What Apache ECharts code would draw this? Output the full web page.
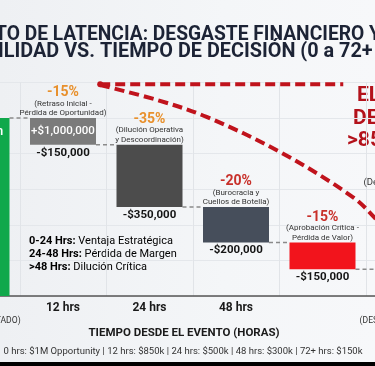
<!DOCTYPE html>
<html><head><meta charset="utf-8">
<script src="https://cdn.jsdelivr.net/npm/echarts@6/dist/echarts.min.js"></script>
<style>
html,body{margin:0;padding:0;width:375px;height:366px;overflow:hidden;background:#000;}
#wrap{position:absolute;left:0;top:0;width:375px;height:362px;overflow:hidden;background:linear-gradient(90deg,#eef0f3 0%,#f4f6f8 60%,#f7f8fa 100%);}
#chart{position:absolute;left:-100px;top:0;width:580px;height:362px;}
</style></head>
<body><div id="wrap"><div id="chart"></div></div>
<script>
// ---- data ----
const categories = ['0 hrs', '12 hrs', '24 hrs', '48 hrs', '', '72+ hrs'];
const categoryNotes = ['(EVENTO DETECTADO)', '', '', '', '', '(DESASTRE FINANCIERO)'];
const startValue = 1000000;
const stepLosses = [150000, 350000, 200000, 150000];
const finalValue = 150000;
const pctLabels = ['', '-15%', '-35%', '-20%', '-15%', '-85%'];
const pctColors = ['#111', '#e8902c', '#e8902c', '#c8302a', '#c8302a', '#b3121b'];
const causeLabels = ['', '(Retraso Inicial -\nPérdida de Oportunidad)', '(Dilución Operativa\ny Descoordinación)', '(Burocracia y\nCuellos de Botella)', '(Aprobación Crítica -\nPérdida de Valor)', '(Destrucción de Valor\nIrreversible)'];
const amountLabels = ['', '-$150,000', '-$350,000', '-$200,000', '-$150,000', ''];
const insideLabels = ['Inversión', '+$1,000,000', '', '', '', ''];
const topNote = 'Máximo';
const barColors = ['#10a84b', '#7b7b7b', '#4c4c4c', '#464e5b', '#f2141c', '#8e0d13'];
const decayX = [1.43, 2.09, 2.66, 3.51, 4.35, 4.64, 5.0];
const decayY = [1185000, 1101000, 1006000, 809000, 556000, 421000, 230000];
const thresholdX = [1.43, 4.24];
const thresholdY = [1190000, 1190000];
const phaseLines = [['0-24 Hrs:', ' Ventaja Estratégica'], ['24-48 Hrs:', ' Pérdida de Margen'], ['>48 Hrs:', ' Dilución Crítica']];
const calloutLines = ['EL COSTO', 'DE ESPERAR', '>85% PERDIDO'];
const titleLine1 = ['IMPAC', 'TO DE LATENCIA: DESGASTE FINANCIERO Y'];
const titleLine2 = ['RENTAB', 'ILIDAD VS. TIEMPO DE DECISIÓN (0 a 72+ HRS)'];
const axisTitle = 'TIEMPO DESDE EL EVENTO (HORAS)';
const footer = '0 hrs: $1M Opportunity | 12 hrs: $850k | 24 hrs: $500k | 48 hrs: $300k | 72+ hrs: $150k';

// ---- derived waterfall ----
const levels = [startValue];
stepLosses.forEach(l => levels.push(levels[levels.length - 1] - l));
const barValues = [startValue].concat(stepLosses).concat([finalValue]);
const baseValues = [0].concat(levels.slice(1)).concat([0]);
const levelAfter = levels.concat([finalValue]);

const OFF = 100; // page x -> chart x
const FONT = 'Roboto, "Noto Sans", sans-serif';
const TFAM = 'Roboto';

const cv = document.createElement('canvas').getContext('2d');
function tw(t, fs) { cv.font = 'bold ' + fs + 'px ' + TFAM; return cv.measureText(t).width; }
const tfs1 = 1.034 * 20 * 362 / tw('TO DE LATENCIA: DESGASTE FINANCIERO ', 20);
const tfs2 = 1.038 * 20 * 366 / tw('ILIDAD VS. TIEMPO DE DECISIÓN (0 a 72+ ', 20);

const chart = echarts.init(document.getElementById('chart'), null, {renderer: 'canvas'});
const BW = 66;

function titleText(text, fs, x, y, align) {
  return {type: 'text', x: x + OFF, y: y, scaleY: 15 / (0.711 * fs),
    style: {text: text, fontFamily: TFAM, fontWeight: 'bold', fontSize: fs, fill: '#1c2335', textAlign: align, textVerticalAlign: 'middle'}};
}

const option = {
  animation: false,
  grid: {left: 33.25, right: 27.75, top: 82.4, bottom: 66},
  xAxis: [{
    type: 'category', data: categories,
    axisLine: {lineStyle: {color: '#555', width: 1.5}},
    axisTick: {show: false},
    splitLine: {show: true, interval: 0, lineStyle: {color: '#e1e4e8', width: 1}},
    axisLabel: {
      interval: 0, margin: 4,
      formatter: (v, i) => categoryNotes[i] ? '{b|' + v + '}\n{s|' + categoryNotes[i] + '}' : '{b|' + v + '}',
      rich: {
        b: {fontFamily: FONT, fontWeight: 'bold', fontSize: 12, color: '#1a1a1a', lineHeight: 15},
        s: {fontFamily: FONT, fontSize: 8.6, color: '#333', lineHeight: 12}
      }
    }
  }, {
    type: 'value', min: -0.5, max: 5.5, show: false
  }],
  yAxis: {
    type: 'value', min: 0, max: 1200000, interval: 200000,
    axisLabel: {show: false}, axisLine: {show: false}, axisTick: {show: false},
    splitLine: {lineStyle: {color: '#e4e7eb', width: 1}}
  },
  series: [{
    name: 'base', type: 'bar', stack: 'w', barWidth: BW,
    itemStyle: {color: 'rgba(0,0,0,0)'},
    data: baseValues,
    label: {
      show: true, position: 'insideTop', distance: 2,
      formatter: p => amountLabels[p.dataIndex],
      fontFamily: FONT, fontWeight: 'bold', fontSize: 11.5, color: '#151515'
    }
  }, {
    name: 'change', type: 'bar', stack: 'w', barWidth: BW,
    data: barValues.map((v, i) => {
      const o = {value: v, itemStyle: {color: barColors[i]}};
      if (i === 0) o.label = {fontSize: 13};
      return o;
    }),
    label: {
      show: true, position: 'insideTop', distance: 7,
      formatter: p => insideLabels[p.dataIndex],
      fontFamily: FONT, fontWeight: 500, fontSize: 11.5, color: '#fff'
    }
  }, {
    name: 'notes', type: 'bar', stack: 'w', barWidth: BW,
    itemStyle: {color: 'rgba(0,0,0,0)'},
    data: barValues.map((v, i) => {
      const o = {value: 0};
      if (i === 0) o.label = {distance: 24};
      if (i === 5) o.label = {distance: 70};
      return o;
    }),
    label: {
      show: true, position: 'top', distance: 0,
      formatter: p => {
        const i = p.dataIndex;
        if (i === 0) return '{n|' + topNote + '}';
        const cls = i === 5 ? 'e' : 'd';
        const d = causeLabels[i].split('\n').map(s => '{' + cls + '|' + s + '}').join('\n');
        return '{p' + i + '|' + pctLabels[i] + '}\n' + d;
      },
      rich: Object.assign({
        n: {fontFamily: FONT, fontWeight: 'bold', fontSize: 13, color: '#111'},
        d: {fontFamily: FONT, fontSize: 8, color: '#333', lineHeight: 9.5},
        e: {fontFamily: FONT, fontSize: 9.5, color: '#333', lineHeight: 11}
      }, Object.fromEntries(pctColors.map((c, i) => ['p' + i, {fontFamily: FONT, fontWeight: 'bold', fontSize: 14, color: c, lineHeight: 13}])))
    }
  }, {
    name: 'connectors', type: 'custom',
    data: levelAfter.slice(0, 5).map((v, i) => [i, v]),
    renderItem: (params, api) => {
      const i = api.value(0), v = api.value(1);
      const a = api.coord([i, v]), b = api.coord([i + 1, v]);
      return {type: 'line', shape: {x1: a[0] + BW / 2, y1: a[1], x2: b[0] - BW / 2, y2: b[1]},
        style: {stroke: '#8a8a8a', lineWidth: 1.5, lineDash: [4, 3]}};
    },
    z: 1
  }, {
    name: 'decay', type: 'line', xAxisIndex: 1, smooth: 0.35,
    symbol: 'none',
    data: decayX.map((x, i) => [x, decayY[i]]),
    lineStyle: {color: '#c0131c', width: 4, type: [10, 5]}, z: 5
  }, {
    name: 'threshold', type: 'line', xAxisIndex: 1,
    showSymbol: true, symbol: 'none',
    data: thresholdX.map((x, i) => i === 0 ? {value: [x, thresholdY[i]], symbol: 'circle', symbolSize: 6, itemStyle: {color: '#c0131c'}} : [x, thresholdY[i]]),
    lineStyle: {color: '#c0131c', width: 4, type: [10, 5]}, z: 5
  }],
  graphic: [
    titleText(titleLine1[0], tfs1, -5, 35, 'right'),
    titleText(titleLine1[1], tfs1, -5, 35, 'left'),
    titleText(titleLine2[0], tfs2, -2, 52, 'right'),
    titleText(titleLine2[1], tfs2, -2, 52, 'left'),
    {type: 'text', x: 357 + OFF, y: 96, style: {text: calloutLines[0], fontFamily: TFAM, fontWeight: 'bold', fontSize: 21, fill: '#b3121b', textVerticalAlign: 'middle'}},
    {type: 'text', x: 353 + OFF, y: 119, style: {text: calloutLines[1], fontFamily: TFAM, fontWeight: 'bold', fontSize: 21, fill: '#b3121b', textVerticalAlign: 'middle'}},
    {type: 'text', x: 347 + OFF, y: 141, style: {text: calloutLines[2], fontFamily: TFAM, fontWeight: 'bold', fontSize: 21, fill: '#b3121b', textVerticalAlign: 'middle'}},
    {type: 'text', x: 29 + OFF, y: 235, style: {
      text: phaseLines.map(l => '{b|' + l[0] + '}{r|' + l[1] + '}').join('\n'),
      rich: {b: {fontFamily: FONT, fontWeight: 'bold', fontSize: 11, color: '#1a1a1a', lineHeight: 13},
             r: {fontFamily: FONT, fontSize: 11, color: '#1a1a1a', lineHeight: 13}}}},
    {type: 'text', x: 184 + OFF, y: 333, style: {text: axisTitle, fontFamily: TFAM, fontWeight: 'bold', fontSize: 11.5, fill: '#1a1a1a', textAlign: 'center', textVerticalAlign: 'middle'}},
    {type: 'text', x: 183 + OFF, y: 352, style: {text: footer, fontFamily: TFAM, fontSize: 9.5, fill: '#333', textAlign: 'center', textVerticalAlign: 'middle'}}
  ]
};
chart.setOption(option);
</script>
</body></html>
